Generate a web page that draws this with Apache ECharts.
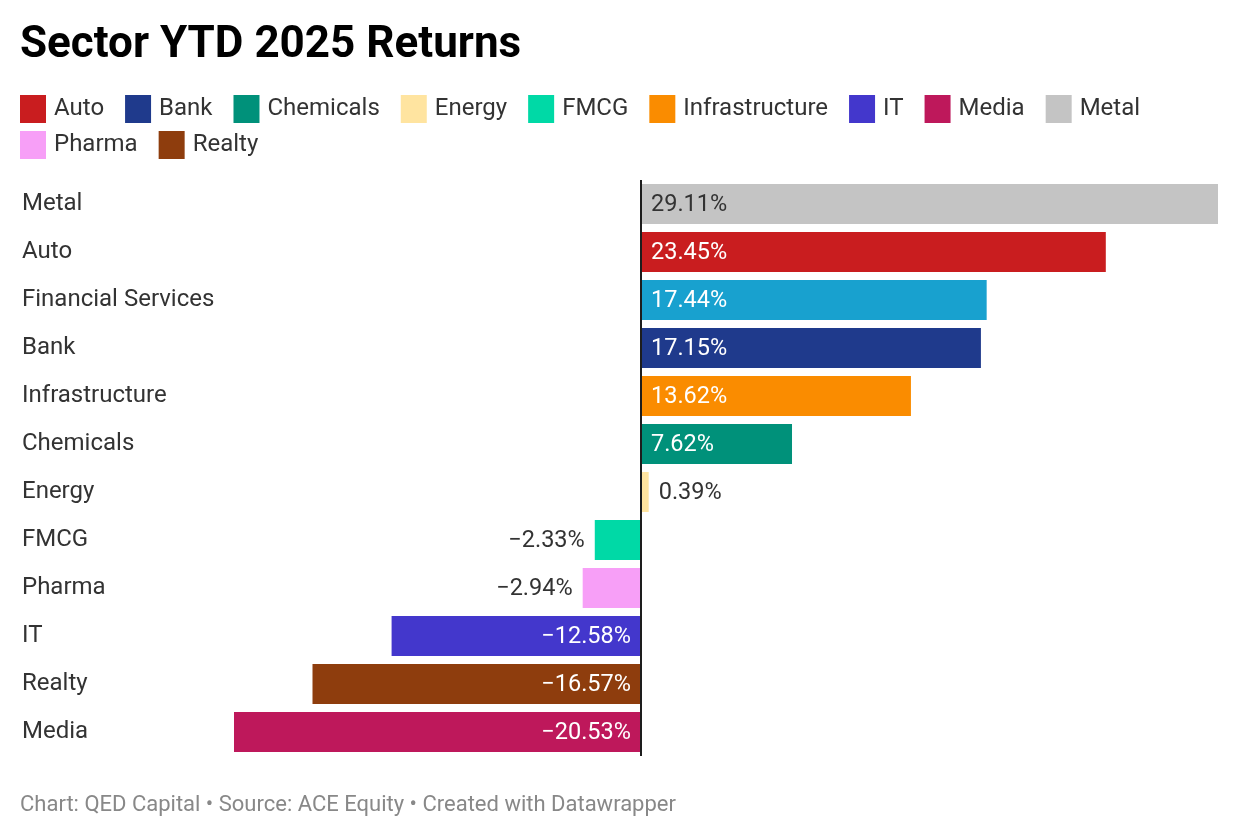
<!DOCTYPE html>
<html>
<head>
<meta charset="utf-8">
<script src="https://cdn.jsdelivr.net/npm/echarts@6/dist/echarts.min.js"></script>
<style>
html,body{margin:0;padding:0;background:#fff;}
#c{width:1240px;height:840px;}
</style>
</head>
<body>
<div id="c"></div>
<script>
const categories = ['Metal','Auto','Financial Services','Bank','Infrastructure','Chemicals','Energy','FMCG','Pharma','IT','Realty','Media'];
const values = [29.11, 23.45, 17.44, 17.15, 13.62, 7.62, 0.39, -2.33, -2.94, -12.58, -16.57, -20.53];
const colors = ['#c4c4c4','#c91d1f','#18a1cf','#1f3a8c','#fa8c00','#00917a','#ffe4a0','#00d9a6','#f79ff7','#4337cc','#8e3d0d','#be185b'];
const legendRow1 = ['Auto','Bank','Chemicals','Energy','FMCG','Infrastructure','IT','Media','Metal'];
const legendRow2 = ['Pharma','Realty'];
const darkText = '#333333';
const FONT = 'Roboto';

function fmt(v){
  const s = Math.abs(v).toFixed(2) + '%';
  return v < 0 ? '\u2212' + s : s;
}

const series = categories.map((name, i) => {
  const v = values[i];
  let position, color;
  if (v >= 0) {
    if (v > 3) { position = 'insideLeft'; color = (name === 'Metal') ? darkText : '#ffffff'; }
    else { position = 'right'; color = darkText; }
  } else {
    if (v < -5) { position = 'insideRight'; color = '#ffffff'; }
    else { position = 'left'; color = darkText; }
  }
  const s = {
    name: name,
    type: 'bar',
    stack: 'all',
    barWidth: 40,
    itemStyle: { color: colors[i] },
    data: categories.map((c, j) => j === i ? v : '-'),
    label: {
      show: true,
      position: position,
      distance: 10,
      offset: [0, 1.5],
      color: color,
      fontFamily: FONT,
      fontSize: 23.5,
      formatter: p => fmt(p.value)
    },
    emphasis: { disabled: true },
    animation: false
  };
  if (i === 0) {
    s.markLine = {
      silent: true,
      symbol: 'none',
      label: { show: false },
      lineStyle: { color: '#1d1d1d', width: 2, type: 'solid' },
      data: [{ xAxis: 0 }],
      animation: false
    };
  }
  return s;
});

const legendCommon = {
  orient: 'horizontal',
  icon: 'rect',
  padding: 0,
  itemWidth: 26,
  itemHeight: 28,
  itemGap: 21,
  textStyle: { fontFamily: FONT, fontSize: 24, color: darkText, padding: [0, 0, 0, 3] },
  selectedMode: false
};

const chart = echarts.init(document.getElementById('c'), null, { renderer: 'canvas' });
chart.setOption({
  backgroundColor: '#ffffff',
  animation: false,
  title: {
    text: 'Sector YTD 2025 Returns',
    left: 20,
    top: 24,
    padding: 0,
    textStyle: { fontFamily: FONT, fontSize: 44, fontWeight: 'bold', color: '#000000' }
  },
  legend: [
    Object.assign({}, legendCommon, { data: legendRow1, left: 20, top: 95 }),
    Object.assign({}, legendCommon, { data: legendRow2, left: 20, top: 131 })
  ],
  grid: { left: 234, right: 22, top: 180, bottom: 84, containLabel: false },
  xAxis: {
    type: 'value',
    min: -20.53,
    max: 29.11,
    show: false
  },
  yAxis: {
    type: 'category',
    data: categories,
    inverse: true,
    axisLine: { show: false },
    axisTick: { show: false },
    axisLabel: {
      align: 'left',
      margin: 212,
      padding: [3, 0, 0, 0],
      fontFamily: FONT,
      fontSize: 24,
      color: darkText
    }
  },
  graphic: [{
    type: 'text',
    left: 20,
    top: 794,
    style: {
      text: 'Chart: QED Capital \u2022 Source: ACE Equity \u2022 Created with Datawrapper',
      fontFamily: FONT,
      fontSize: 22,
      fill: '#888888'
    }
  }],
  series: series
});
</script>
</body>
</html>
